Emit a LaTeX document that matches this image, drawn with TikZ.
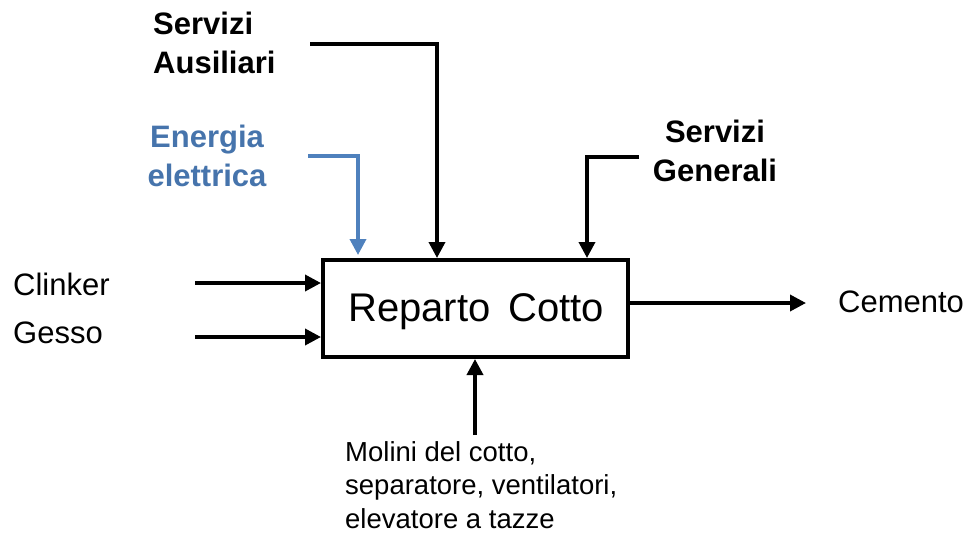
\documentclass[tikz,border=0pt]{standalone}
\usepackage{fontspec}
\setmainfont{Liberation Sans}
\usetikzlibrary{arrows.meta}
\definecolor{bluearrow}{RGB}{79,129,189}
\definecolor{bluetext}{RGB}{70,116,172}
\begin{document}
\begin{tikzpicture}[x=1pt,y=-1pt,
  lab/.style={inner sep=0pt, font=\fontsize{31}{40}\selectfont},
  blab/.style={inner sep=0pt, font=\bfseries\fontsize{31}{39}\selectfont},
  smalllab/.style={inner sep=0pt, font=\fontsize{27.5}{33.5}\selectfont},
  arr/.style={line width=3.6pt, -{Triangle[length=16pt,width=16pt]}},
  procbox/.style={draw, line width=4pt, minimum width=305pt, minimum height=97pt, inner sep=0pt, font=\fontsize{40}{48}\selectfont}
]
\useasboundingbox (0,0) rectangle (970,533);
\node[procbox] (rc) at (475.5,308.5) {};
\node[inner sep=0pt, font=\fontsize{40}{48}\selectfont, anchor=base] (rct) at (476,321) {Reparto\, Cotto};

\node[blab, anchor=north west, align=left] (sal) at (153,12) {Servizi\\Ausiliari};
\node[blab, anchor=north, align=center, text=bluetext] (eel) at (207,125) {Energia\\elettrica};
\node[blab, anchor=north, align=center] (sgl) at (715,120) {Servizi\\Generali};
\node[lab, anchor=base west] (cll) at (13,295) {Clinker};
\node[lab, anchor=base west] (gel) at (13,343) {Gesso};
\node[lab, anchor=base west] (cel) at (838,312) {Cemento};
\node[smalllab, anchor=north west, align=left] (mol) at (345,441) {Molini del cotto,\\separatore, ventilatori,\\elevatore a tazze};

\coordinate (sa0) at (310,44);
\coordinate (sa1) at (437,44);
\coordinate (ee0) at (308,156);
\coordinate (ee1) at (358,156);
\coordinate (sg0) at (639,157);
\coordinate (sg1) at (587,157);
\coordinate (cl0) at (195,283);
\coordinate (ge0) at (195,337);
\coordinate (ce0) at (806,303);
\coordinate (bt0) at (475,435);

\draw[arr] (sa0) -- (sa1) -- (sa1 |- rc.north);
\draw[arr, bluearrow, shorten >=3pt] (ee0) -- (ee1) -- (ee1 |- rc.north);
\draw[arr] (sg0) -- (sg1) -- (sg1 |- rc.north);
\draw[arr] (cl0) -- (cl0 -| rc.west);
\draw[arr] (ge0) -- (ge0 -| rc.west);
\draw[arr] (rc.east |- ce0) -- (ce0);
\draw[arr] (bt0) -- (bt0 |- rc.south);
\end{tikzpicture}
\end{document}
